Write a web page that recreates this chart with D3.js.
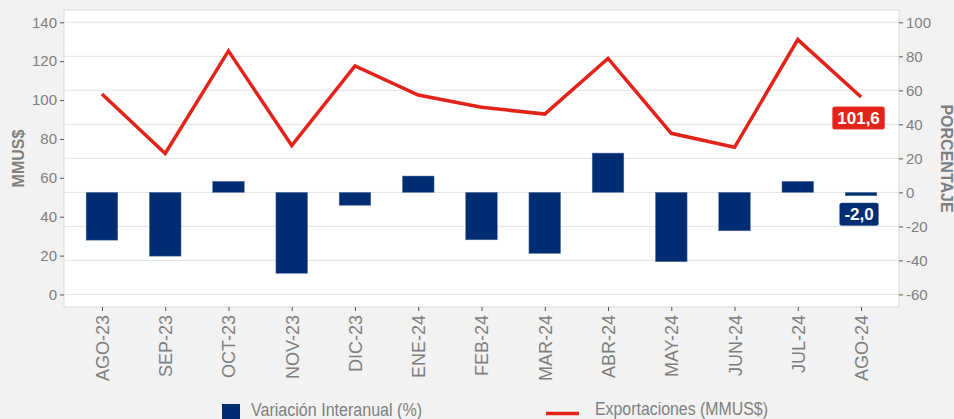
<!DOCTYPE html>
<html>
<head>
<meta charset="utf-8">
<script src="https://cdn.jsdelivr.net/npm/d3@7"></script>
<style>
  html, body { margin: 0; padding: 0; background: #f2f2f2; }
  svg { display: block; font-family: "Liberation Sans", Arial, sans-serif; }
</style>
</head>
<body>
<svg id="chart" width="954" height="419"></svg>
<script>
// meses
const categories = ["AGO-23", "SEP-23", "OCT-23", "NOV-23", "DIC-23", "ENE-24", "FEB-24",
    "MAR-24", "ABR-24", "MAY-24", "JUN-24", "JUL-24", "AGO-24"];
// Exportaciones (MMUS$) - eje izquierdo
const exportaciones = [103.1, 72.5, 125.3, 76.6, 117.6, 102.6, 96.3, 92.8, 121.4, 82.9, 75.7, 131.1, 101.6];
// Variación interanual (%) - eje derecho
const variacion = [-28.1, -37.5, 6.5, -47.6, -7.6, 9.6, -27.9, -35.9, 23.1, -40.8, -22.6, 6.5, -2.0];
const leftTicks = [0, 20, 40, 60, 80, 100, 120, 140];
const rightTicks = [-60, -40, -20, 0, 20, 40, 60, 80, 100];

const navy = "#002d72";
const red = "#e2231a";
const grey = "#7f7f7f";

const svg = d3.select("#chart");
const panel = { left: 64, right: 899, top: 10, bottom: 307 };

const x = d3.scalePoint()
    .domain(categories)
    .range([panel.left, panel.right])
    .padding(0.6);

const yLeft = d3.scaleLinear().domain([0, 140]).range([294.5, 22.3]);
const yRight = d3.scaleLinear().domain([-60, 100]).range([294.4, 22.3]);

// panel
svg.append("rect")
    .attr("x", panel.left).attr("y", panel.top)
    .attr("width", panel.right - panel.left)
    .attr("height", panel.bottom - panel.top)
    .attr("fill", "#fff")
    .attr("stroke", "#d9d9d9");

// grid (sigue el eje derecho)
svg.append("g").selectAll("line")
    .data(rightTicks)
    .enter().append("line")
    .attr("x1", panel.left + 0.5).attr("x2", panel.right - 0.5)
    .attr("y1", d => yRight(d)).attr("y2", d => yRight(d))
    .attr("stroke", "#e3e3e3").attr("stroke-width", 1);

// barras
const barW = x.step() * 0.5;
svg.append("g").selectAll("rect")
    .data(variacion)
    .enter().append("rect")
    .attr("x", (d, i) => x(categories[i]) - barW / 2)
    .attr("y", d => yRight(Math.max(d, 0)))
    .attr("width", barW)
    .attr("height", d => Math.abs(yRight(d) - yRight(0)))
    .attr("fill", navy)
    .attr("stroke", "#5a78a8")
    .attr("stroke-width", 0.5);

// línea
const line = d3.line()
    .x((d, i) => x(categories[i]))
    .y(d => yLeft(d));

svg.append("path")
    .datum(exportaciones)
    .attr("d", line)
    .attr("fill", "none")
    .attr("stroke", red)
    .attr("stroke-width", 3.5)
    .attr("stroke-linejoin", "miter");

// ejes (guion simple para negativos)
const plain = d => String(d);
const axisLeft = d3.axisLeft(yLeft).tickValues(leftTicks).tickFormat(plain).tickSize(4).tickPadding(3);
const axisRight = d3.axisRight(yRight).tickValues(rightTicks).tickFormat(plain).tickSize(4).tickPadding(3);
const axisBottom = d3.axisBottom(x).tickSize(4).tickPadding(4);

function styleAxis(g, size) {
    g.select(".domain").remove();
    g.selectAll(".tick line").attr("stroke", "#555");
    g.selectAll(".tick text")
        .attr("fill", grey)
        .style("font-size", size + "px")
        .style("font-family", "'Liberation Sans', Arial, sans-serif");
}

svg.append("g")
    .attr("transform", `translate(${panel.left},0)`)
    .call(axisLeft)
    .call(g => styleAxis(g, 15));

svg.append("g")
    .attr("transform", `translate(${panel.right},0)`)
    .call(axisRight)
    .call(g => styleAxis(g, 15));

svg.append("g")
    .attr("transform", `translate(0,${panel.bottom})`)
    .call(axisBottom)
    .call(g => styleAxis(g, 18))
    .call(g => g.selectAll(".tick text")
        .attr("transform", "rotate(-90)")
        .attr("text-anchor", "end")
        .attr("x", -8)
        .attr("y", 0)
        .attr("dy", "0.36em"));

// títulos de ejes
svg.append("text")
    .attr("transform", `translate(24, ${(22 + 295) / 2}) rotate(-90)`)
    .attr("text-anchor", "middle")
    .attr("fill", grey)
    .style("font-size", "16px")
    .style("font-weight", "bold")
    .text("MMUS$");

svg.append("text")
    .attr("transform", `translate(941, ${(22 + 295) / 2}) rotate(90)`)
    .attr("text-anchor", "middle")
    .attr("fill", grey)
    .style("font-size", "16px")
    .style("font-weight", "bold")
    .text("PORCENTAJE");

// etiquetas del último valor
const last = categories.length - 1;
const fmt = v => v.toFixed(1).replace(".", ",");

function addLabel(cx, cy, txt, fill) {
    const g = svg.append("g");
    const t = g.append("text")
        .attr("x", cx).attr("y", cy)
        .attr("text-anchor", "middle")
        .attr("dy", "0.36em")
        .attr("fill", "#fff")
        .style("font-size", "17px")
        .style("font-weight", "bold")
        .text(txt);
    const bb = t.node().getBBox();
    g.insert("rect", "text")
        .attr("x", bb.x - 5).attr("y", cy - 11.5)
        .attr("width", bb.width + 10).attr("height", 23)
        .attr("rx", 2.5)
        .attr("fill", fill)
        .attr("stroke", "#fff")
        .attr("stroke-opacity", 0.4)
        .attr("stroke-width", 0.5);
}

addLabel(x(categories[last]) - 2.5, yLeft(exportaciones[last]) + 21, fmt(exportaciones[last]), red);
addLabel(x(categories[last]) - 2, yRight(variacion[last]) + 18.5, fmt(variacion[last]), navy);

// leyenda
const legend = svg.append("g");
legend.append("rect")
    .attr("x", 222).attr("y", 404)
    .attr("width", 18).attr("height", 18)
    .attr("fill", navy);
legend.append("text")
    .attr("x", 251).attr("y", 416)
    .attr("fill", grey)
    .style("font-size", "18px")
    .attr("textLength", 171)
    .attr("lengthAdjust", "spacingAndGlyphs")
    .text("Variación Interanual (%)");
legend.append("line")
    .attr("x1", 546).attr("x2", 579)
    .attr("y1", 413.5).attr("y2", 413.5)
    .attr("stroke", red)
    .attr("stroke-width", 3.5);
legend.append("text")
    .attr("x", 595).attr("y", 415)
    .attr("fill", grey)
    .style("font-size", "18px")
    .attr("textLength", 173)
    .attr("lengthAdjust", "spacingAndGlyphs")
    .text("Exportaciones (MMUS$)");
</script>
</body>
</html>
